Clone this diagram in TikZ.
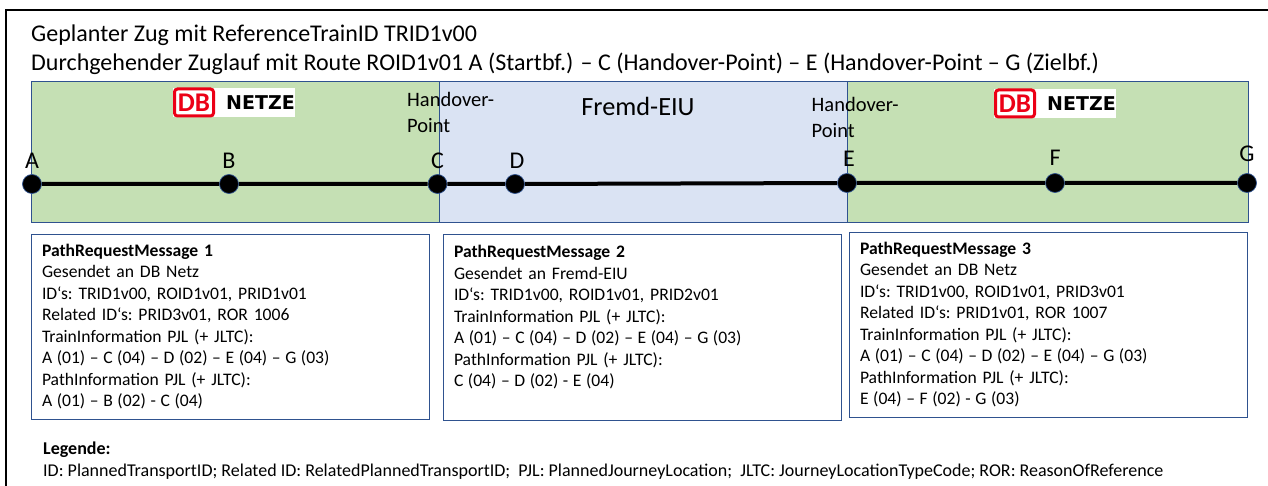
\documentclass[tikz,border=0pt]{standalone}
\usepackage{fontspec}
\setmainfont{Carlito}
\newfontfamily\logofont{DejaVu Sans}
\usepackage{tikz}
\usetikzlibrary{positioning}
\definecolor{rimblue}{HTML}{2F528F}
\definecolor{netzgreen}{HTML}{C5E0B4}
\definecolor{eiublue}{HTML}{DAE3F3}
\definecolor{dbred}{HTML}{EC0016}
\newcommand{\pjlline}[1]{{\spaceskip=4.6pt\relax #1}}
\tikzset{
  zone/.style={draw=rimblue,line width=0.9pt,outer sep=0pt,inner sep=0pt,minimum height=141pt},
  halt/.style={circle,fill=black,draw=rimblue,line width=0.7pt,minimum size=19pt,inner sep=0pt},
  haltname/.style={font=\fontsize{24}{24}\selectfont,inner sep=0pt},
  handover/.style={font=\fontsize{20.5}{26}\selectfont,align=left,anchor=north west,inner sep=0pt},
  titletext/.style={font=\fontsize{24}{29}\selectfont,align=left,anchor=north west,inner sep=0pt},
  msgbox/.style={draw=rimblue,line width=0.9pt,anchor=north west,align=left,text width=376pt,
    font=\frenchspacing\fontsize{17.6}{21.5}\selectfont,inner xsep=11pt,inner ysep=0pt,outer sep=0pt},
  logoback/.style={fill=white,anchor=north west,minimum width=122pt,minimum height=29pt,inner sep=0pt,outer sep=0pt},
  dbbox/.style={draw=dbred,fill=white,line width=3pt,rounded corners=3pt,inner sep=0pt,outer sep=0pt,
    minimum width=39pt,minimum height=27pt,text=dbred,font=\bfseries\fontsize{27}{27}\selectfont},
  netzetext/.style={font=\logofont\bfseries\fontsize{19}{19}\selectfont,inner sep=0pt},
}
\begin{document}
\begin{tikzpicture}[x=1pt,y=-1pt]
  \useasboundingbox (0,0) rectangle (1268,486);
  \coordinate (framea) at (6,486);
  \coordinate (frameb) at (6,10);
  \coordinate (framec) at (1268,10);
  \draw[line width=2.2pt] (framea) -- (frameb) -- (framec);
  \node[titletext] (title) at (31,24.5) {Geplanter Zug mit ReferenceTrainID TRID1v00\\
    Durchgehender Zuglauf mit Route ROID1v01 A (Startbf.) – C (Handover-Point) – E (Handover-Point – G (Zielbf.)};

  % Netzbereiche
  \node[zone,fill=netzgreen,minimum width=408pt,anchor=north west] (netzl) at (31,81) {};
  \node[zone,fill=eiublue,minimum width=408pt,right=0pt of netzl] (eiu) {};
  \node[zone,fill=netzgreen,minimum width=401pt,right=0pt of eiu] (netzr) {};
  \node[font=\fontsize{26.3}{26}\selectfont,inner sep=0pt] (fremd) at (638,106) {Fremd-EIU};

  % Logos
  \node[logoback] (logol) at (173,88) {};
  \node[dbbox] (dbl) at (194,102.5) {DB};
  \node[netzetext] (netzetl) at (260.5,103) {NETZE};
  \node[logoback] (logor) at (994,89) {};
  \node[dbbox] (dbr) at (1015,103.5) {DB};
  \node[netzetext] (netzetr) at (1081.5,104) {NETZE};

  \node[handover] (hol) at (407,92.5) {Handover-\\Point};
  \node[handover] (hor) at (811.5,97.5) {Handover-\\Point};

  % Strecke
  \node[halt] (a) at (32,184) {};
  \node[halt] (b) at (229,184) {};
  \node[halt] (c) at (437.5,184) {};
  \node[halt] (d) at (515,184) {};
  \node[halt] (e) at (847,183) {};
  \node[halt] (f) at (1055,183) {};
  \node[halt] (g) at (1247,183) {};
  \draw[line width=4pt] (a) -- (b) -- (c) -- (d) -- (e) -- (f) -- (g);
  \node[haltname,above=5pt of a] (la) {A};
  \node[haltname,above=5pt of b] (lb) {B};
  \node[haltname,above=5pt of c] (lc) {C};
  \node[haltname,above=5pt of d,xshift=2pt] (ld) {D};
  \node[haltname,above=6pt of e,xshift=2pt] (le) {E};
  \node[haltname,above=7pt of f] (lf) {F};
  \node[haltname,above=11pt of g] (lg) {G};

  % Nachrichten
  \node[msgbox,minimum height=185pt] (msga) at (31,234) {\textbf{PathRequestMessage 1}\\
    Gesendet an DB Netz\\
    ID‘s: TRID1v00, ROID1v01, PRID1v01\\
    Related ID‘s: PRID3v01, ROR 1006\\
    TrainInformation PJL (+ JLTC):\\
    \pjlline{A (01) – C (04) – D (02) – E (04) – G (03)}\\
    PathInformation PJL (+ JLTC):\\
    \pjlline{A (01) – B (02) - C (04)}};
  \node[msgbox,minimum height=186pt] (msgb) at (443,234) {\textbf{PathRequestMessage 2}\\
    Gesendet an Fremd-EIU\\
    ID‘s: TRID1v00, ROID1v01, PRID2v01\\
    TrainInformation PJL (+ JLTC):\\
    \pjlline{A (01) – C (04) – D (02) – E (04) – G (03)}\\
    PathInformation PJL (+ JLTC):\\
    \pjlline{C (04) – D (02) - E (04)}\\
    \mbox{}};
  \node[msgbox,minimum height=185pt] (msgc) at (849,232) {\textbf{PathRequestMessage 3}\\
    Gesendet an DB Netz\\
    ID‘s: TRID1v00, ROID1v01, PRID3v01\\
    Related ID‘s: PRID1v01, ROR 1007\\
    TrainInformation PJL (+ JLTC):\\
    \pjlline{A (01) – C (04) – D (02) – E (04) – G (03)}\\
    PathInformation PJL (+ JLTC):\\
    \pjlline{E (04) – F (02) - G (03)}};

  \node[anchor=north west,align=left,inner sep=0pt,font=\frenchspacing\fontsize{18}{21.5}\selectfont] (legend) at (43,442) {\textbf{Legende:}\\
    ID: PlannedTransportID; Related ID: RelatedPlannedTransportID;~ PJL: PlannedJourneyLocation;~ JLTC: JourneyLocationTypeCode; ROR: ReasonOfReference};
\end{tikzpicture}
\end{document}
